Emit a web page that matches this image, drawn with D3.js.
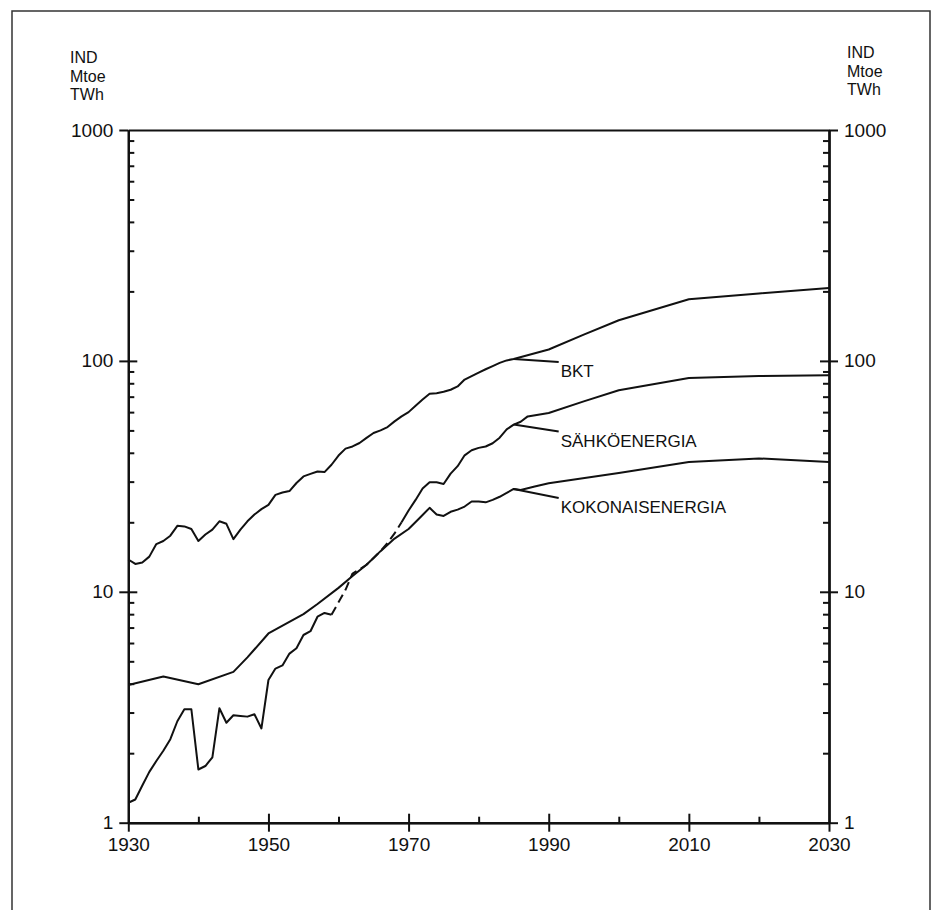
<!DOCTYPE html>
<html>
<head>
<meta charset="utf-8">
<script src="https://cdn.jsdelivr.net/npm/d3@7"></script>
<style>
  body { margin: 0; background: #fff; }
  svg { display: block; }
  text { font-family: "Liberation Sans", Arial, sans-serif; fill: #111; }
</style>
</head>
<body>
<svg width="940" height="910"></svg>
<script>
// data (year, value)
const bkt = [
    [1930, 13.8], [1931, 13.2], [1932, 13.4], [1933, 14.2], [1934, 16.1], [1935, 16.6],
    [1936, 17.5], [1937, 19.3], [1938, 19.2], [1939, 18.7], [1940, 16.6], [1941, 17.7],
    [1942, 18.6], [1943, 20.2], [1944, 19.7], [1945, 16.9], [1946, 18.6], [1947, 20.2],
    [1948, 21.6], [1949, 22.8], [1950, 23.8], [1951, 26.3], [1952, 26.9], [1953, 27.3],
    [1954, 29.6], [1955, 31.6], [1956, 32.4], [1957, 33.2], [1958, 33.0], [1959, 35.5],
    [1960, 38.9], [1961, 41.7], [1962, 42.6], [1963, 44.1], [1964, 46.4], [1965, 48.7],
    [1966, 50.0], [1967, 51.7], [1968, 54.7], [1969, 57.5], [1970, 60.0], [1971, 64.0],
    [1972, 68.0], [1973, 72.0], [1974, 72.5], [1975, 73.5], [1976, 75.0], [1977, 77.5],
    [1978, 83.0], [1979, 86.0], [1980, 89.0], [1981, 92.0], [1982, 95.0], [1983, 98.0],
    [1984, 100.5], [1985, 102], [1990, 112], [1995, 130], [2000, 150], [2010, 185],
    [2020, 196], [2030, 207]
];

const sahko = [
    [1930, 1.22], [1931, 1.26], [1932, 1.45], [1933, 1.66], [1934, 1.85], [1935, 2.05],
    [1936, 2.3], [1937, 2.75], [1938, 3.1], [1939, 3.1], [1940, 1.7], [1941, 1.76],
    [1942, 1.92], [1943, 3.13], [1944, 2.71], [1945, 2.92], [1946, 2.9], [1947, 2.88],
    [1948, 2.95], [1949, 2.56], [1950, 4.15], [1951, 4.65], [1952, 4.8], [1953, 5.4],
    [1954, 5.7], [1955, 6.5], [1956, 6.75], [1957, 7.8], [1958, 8.1], [1959, 7.95],
    [1960, 9.0], [1961, 10.2], [1962, 12.0], [1963, 12.5], [1964, 13.1], [1965, 14.0],
    [1966, 15.0], [1967, 16.3], [1968, 17.9], [1969, 20.0], [1970, 22.5], [1971, 25.0],
    [1972, 28.0], [1973, 29.8], [1974, 29.8], [1975, 29.3], [1976, 32.5], [1977, 35.0],
    [1978, 39.0], [1979, 41.0], [1980, 42.0], [1981, 42.6], [1982, 44.0], [1983, 46.5],
    [1984, 50.5], [1985, 53.0], [1986, 54.5], [1987, 57.5], [1990, 59.5], [1995, 66.8],
    [2000, 74.6], [2010, 84.4], [2020, 86.0], [2030, 86.6]
];
// the electricity series is drawn dashed between these years
const sahkoDashed = [1959, 1969];

const kokonais = [
    [1930, 3.95], [1935, 4.3], [1940, 3.98], [1945, 4.5], [1947, 5.2], [1950, 6.6],
    [1955, 8.0], [1957, 8.85], [1960, 10.4], [1962, 11.7], [1964, 13.1], [1965, 14.0],
    [1966, 15.0], [1968, 17.0], [1970, 18.7], [1972, 21.5], [1973, 23.1], [1974, 21.6],
    [1975, 21.3], [1976, 22.2], [1977, 22.7], [1978, 23.4], [1979, 24.6], [1980, 24.6],
    [1981, 24.4], [1982, 25.0], [1983, 25.8], [1984, 26.8], [1985, 27.9], [1986, 27.6],
    [1988, 28.6], [1990, 29.5], [2000, 32.7], [2010, 36.5], [2020, 37.8], [2030, 36.5]
];

const seriesNames = ["BKT", "SÄHKÖENERGIA", "KOKONAISENERGIA"];
const labelYear = 1985;
const unitLines = ["IND", "Mtoe", "TWh"];

const xMajor = [1930, 1950, 1970, 1990, 2010, 2030];
const xMinor = [1940, 1960, 1980, 2000, 2020];
const yMajor = [1, 10, 100, 1000];
const yMinor = [1, 10, 100].flatMap(d => d3.range(2, 10).map(k => k * d));

// scales
const x = d3.scaleLinear().domain([1930, 2030]).range([128.3, 829]);
const y = d3.scaleLog().domain([1, 1000]).range([822.7, 130]);

const svg = d3.select('svg');
const ink = '#111';

// outer frame (open at the bottom)
svg.append('path')
    .attr('d', 'M12,910V11H930V910')
    .attr('fill', 'none')
    .attr('stroke', '#333')
    .attr('stroke-width', 1.5);

function styleAxis(g) {
    g.selectAll('path, line').attr('stroke', ink).attr('stroke-width', 2);
    g.selectAll('text').attr('font-size', 19).attr('fill', ink)
        .attr('font-family', '"Liberation Sans", Arial, sans-serif');
}

// left axis
svg.append('g').attr('transform', 'translate(' + x(1930) + ',0)')
    .call(d3.axisLeft(y).tickValues(yMajor).tickFormat(d3.format('d')).tickSize(9).tickPadding(6).tickSizeOuter(0))
    .call(styleAxis);
svg.append('g').attr('transform', 'translate(' + x(1930) + ',0)')
    .call(d3.axisRight(y).tickValues([10, 100]).tickFormat('').tickSize(9).tickSizeOuter(0))
    .call(styleAxis);
svg.append('g').attr('transform', 'translate(' + x(1930) + ',0)')
    .call(d3.axisRight(y).tickValues(yMinor).tickFormat('').tickSize(6).tickSizeOuter(0))
    .call(styleAxis);

// right axis
svg.append('g').attr('transform', 'translate(' + x(2030) + ',0)')
    .call(d3.axisRight(y).tickValues(yMajor).tickFormat(d3.format('d')).tickSize(9).tickPadding(6).tickSizeOuter(0))
    .call(styleAxis);
svg.append('g').attr('transform', 'translate(' + x(2030) + ',0)')
    .call(d3.axisLeft(y).tickValues([10, 100]).tickFormat('').tickSize(9).tickSizeOuter(0))
    .call(styleAxis);
svg.append('g').attr('transform', 'translate(' + x(2030) + ',0)')
    .call(d3.axisLeft(y).tickValues(yMinor).tickFormat('').tickSize(6).tickSizeOuter(0))
    .call(styleAxis);

// bottom axis
svg.append('g').attr('transform', 'translate(0,' + y(1) + ')')
    .call(d3.axisBottom(x).tickValues(xMajor).tickFormat(d3.format('d')).tickSize(9).tickPadding(6).tickSizeOuter(0))
    .call(styleAxis);
svg.append('g').attr('transform', 'translate(0,' + y(1) + ')')
    .call(d3.axisTop(x).tickValues(xMajor.slice(1, -1)).tickFormat('').tickSize(9).tickSizeOuter(0))
    .call(styleAxis);
svg.append('g').attr('transform', 'translate(0,' + y(1) + ')')
    .call(d3.axisTop(x).tickValues(xMinor).tickFormat('').tickSize(6).tickSizeOuter(0))
    .call(styleAxis);

// top border of the plot
svg.append('g').attr('transform', 'translate(0,' + y(1000) + ')')
    .call(d3.axisTop(x).tickValues([]).tickSizeOuter(0))
    .call(styleAxis);

// unit labels
[[70, 63], [847, 58]].forEach(p => {
    svg.append('g').selectAll('text')
        .data(unitLines).enter()
        .append('text')
        .attr('x', p[0])
        .attr('y', (d, i) => p[1] + i * 18.5)
        .attr('font-size', 16)
        .text(d => d);
});

// lines
const line = d3.line().x(d => x(d[0])).y(d => y(d[1]));

function drawLine(data, dash) {
    svg.append('path')
        .datum(data)
        .attr('fill', 'none')
        .attr('stroke', ink)
        .attr('stroke-width', 2)
        .attr('stroke-linejoin', 'round')
        .attr('stroke-dasharray', dash || null)
        .attr('d', line);
}

drawLine(bkt);
drawLine(kokonais);
drawLine(sahko.filter(d => d[0] <= sahkoDashed[0]));
drawLine(sahko.filter(d => d[0] >= sahkoDashed[0] && d[0] <= sahkoDashed[1]), '9,5');
drawLine(sahko.filter(d => d[0] >= sahkoDashed[1]));

// leader lines and labels
const labelSeries = [bkt, sahko, kokonais];
const leaderDrop = [3, 7, 9];
labelSeries.forEach((s, i) => {
    const v = s.find(d => d[0] === labelYear)[1];
    const x0 = x(labelYear), y0 = y(v);
    const x1 = x0 + 45, y1 = y0 + leaderDrop[i];
    svg.append('line')
        .attr('x1', x0).attr('y1', y0)
        .attr('x2', x1).attr('y2', y1)
        .attr('stroke', ink).attr('stroke-width', 2);
    svg.append('text')
        .attr('x', x1 + 2)
        .attr('y', y1 + 15)
        .attr('font-size', 17)
        .text(seriesNames[i]);
});
</script>
</body>
</html>
